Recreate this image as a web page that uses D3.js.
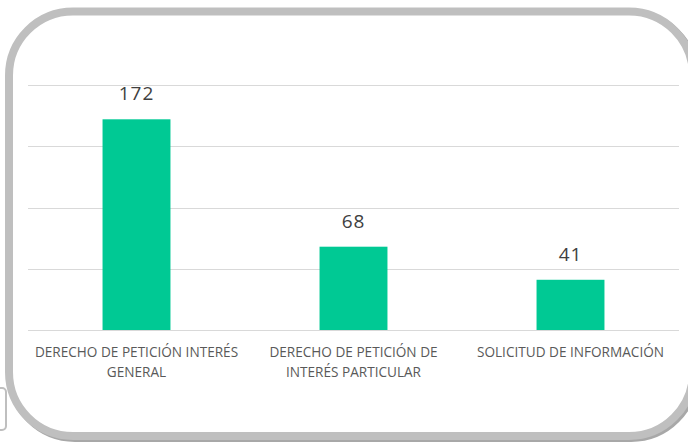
<!DOCTYPE html>
<html>
<head>
<meta charset="UTF-8">
<title></title>
<script src="https://cdn.jsdelivr.net/npm/d3@7/dist/d3.min.js"></script>
<style>
	*{ margin:0; padding:0; }
	body{ background:#fff; }
	#mychart{ width:688px; height:442px; }
</style>
</head>
<body>
<div id="mychart"></div>
<script>
// datos del gráfico
var categories = ["DERECHO DE PETICIÓN INTERÉS\nGENERAL", "DERECHO DE PETICIÓN DE\nINTERÉS PARTICULAR", "SOLICITUD DE INFORMACIÓN"];
var values = [172, 68, 41];
var yTicks = [0, 50, 100, 150, 200];

var W = 688, H = 442;
var svg = d3.select("#mychart").append("svg")
	.attr("width", W)
	.attr("height", H);

// marco redondeado (con sombra)
svg.append("rect")
	.attr("x", 11).attr("y", 13.5)
	.attr("width", 684).attr("height", 424.5)
	.attr("rx", 64).attr("ry", 64)
	.attr("fill", "none")
	.attr("stroke", "#a8a8a8")
	.attr("stroke-width", 8);
svg.append("rect")
	.attr("x", 9).attr("y", 11.5)
	.attr("width", 684).attr("height", 424.5)
	.attr("rx", 64).attr("ry", 64)
	.attr("fill", "#fff")
	.attr("stroke", "#bfbfbf")
	.attr("stroke-width", 8);

// trozo del otro cuadro abajo a la izquierda
svg.append("rect")
	.attr("x", -30).attr("y", 388)
	.attr("width", 36).attr("height", 42)
	.attr("rx", 4)
	.attr("fill", "#fff")
	.attr("stroke", "#bfbfbf")
	.attr("stroke-width", 2);

var plotL = 28, plotR = 679, plotT = 85, plotB = 330;

var x = d3.scaleBand()
	.domain(categories)
	.range([plotL, plotR])
	.padding(0);

var y = d3.scaleLinear()
	.domain([0, 200])
	.range([plotB, plotT]);

// líneas de la cuadrícula
svg.append("g")
	.selectAll("line")
	.data(yTicks)
	.enter()
	.append("line")
	.attr("x1", plotL)
	.attr("x2", plotR)
	.attr("y1", function(d){ return Math.round(y(d)) + 0.5; })
	.attr("y2", function(d){ return Math.round(y(d)) + 0.5; })
	.attr("stroke", "#d9d9d9")
	.attr("stroke-width", 1);

var barW = x.bandwidth() * 0.313;

// barras
svg.append("g")
	.selectAll("rect")
	.data(values)
	.enter()
	.append("rect")
	.attr("x", function(d, i){ return x(categories[i]) + x.bandwidth() / 2 - barW / 2; })
	.attr("y", function(d){ return y(d); })
	.attr("width", barW)
	.attr("height", function(d){ return plotB - y(d); })
	.attr("fill", "#00c994");

// valores
svg.append("g")
	.selectAll("text")
	.data(values)
	.enter()
	.append("text")
	.attr("x", function(d, i){ return x(categories[i]) + x.bandwidth() / 2; })
	.attr("y", function(d){ return y(d) - 19; })
	.attr("text-anchor", "middle")
	.attr("font-family", "'Open Sans', sans-serif")
	.attr("font-size", "19px")
	.attr("letter-spacing", "1px")
	.attr("fill", "#404040")
	.text(function(d){ return d; });

// etiquetas de categoría
var labels = svg.append("g")
	.selectAll("text")
	.data(categories)
	.enter()
	.append("text")
	.attr("text-anchor", "middle")
	.attr("font-family", "'Open Sans', sans-serif")
	.attr("font-size", "13.6px")
	.attr("fill", "#595959");

labels.each(function(d){
	var t = d3.select(this);
	var cx = x(d) + x.bandwidth() / 2;
	d.split("\n").forEach(function(line, k){
		t.append("tspan")
			.attr("x", cx)
			.attr("y", 357 + k * 19.5)
			.text(line);
	});
});
</script>
</body>
</html>
